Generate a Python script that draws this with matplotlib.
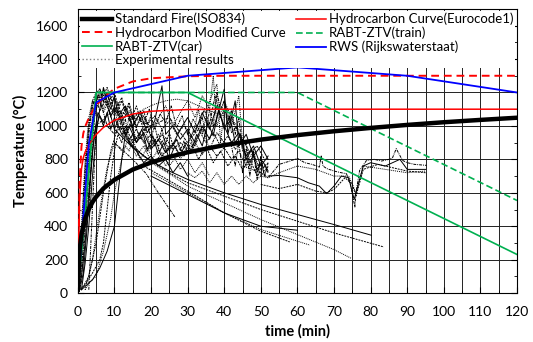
import matplotlib
matplotlib.use("Agg")
import matplotlib.pyplot as plt
from matplotlib.ticker import MultipleLocator

plt.rcParams['font.family'] = ['Lato', 'DejaVu Sans']

# standard fire curves (values read at sample times)
iso_t = [0, 0.5, 1, 1.5, 2, 3, 4, 5, 7, 10, 15, 20, 25, 30, 40, 50, 60, 70, 80, 90, 100, 110, 120]
iso_T = [20, 261, 349, 404, 445, 502, 544, 576, 626, 678, 739, 781, 815, 842, 885, 918, 945, 968, 988, 1006, 1022, 1036, 1049]

hc_t = [0, 0.5, 1, 1.5, 2, 3, 4, 5, 7, 10, 15, 20, 30, 40, 120]
hc_T = [20, 568, 743, 810, 844, 887, 920, 948, 991, 1034, 1071, 1088, 1098, 1100, 1100]
hcm_T = [20, 670, 877, 956, 996, 1047, 1087, 1120, 1171, 1222, 1266, 1285, 1297, 1300, 1300]

car_t = [0, 5, 30, 120]
car_T = [20, 1200, 1200, 231]
train_t = [0, 5, 60, 120]
train_T = [20, 1200, 1200, 554]

rws_t = [0, 3, 5, 10, 30, 60, 90, 120]
rws_T = [20, 890, 1140, 1200, 1300, 1350, 1300, 1200]

# experimental runs (time, temperature)
c1 = ([0, 1, 2, 3, 4, 5, 6, 7, 8, 9, 10, 11, 12, 13, 14, 15, 16, 17, 18, 19, 20, 21, 22, 23, 24, 25, 26, 27, 28, 29, 30],
      [20, 300, 700, 1000, 1150, 1200, 1170, 1215, 1120, 1175, 1080, 1140, 1050, 1110, 1030, 1060, 990, 1050, 970, 1000, 930, 1000, 910, 980, 890, 960, 880, 920, 850, 910, 840])
c2 = ([0, 1, 2, 3, 4, 5, 6, 7, 8, 9, 10, 12, 14, 16, 18, 20, 22, 24, 26, 28, 30, 32, 34, 36, 37, 38, 40, 42, 44, 45],
      [20, 150, 450, 800, 1000, 1100, 1150, 1080, 1130, 1060, 1100, 1020, 1090, 1000, 1060, 980, 1050, 1120, 1000, 1080, 1150, 1050, 1180, 1100, 1300, 1000, 1150, 1050, 950, 880])
c3 = ([0.5, 1.5, 2.5, 3.5, 4.5, 5.5, 6.5, 8, 10, 12, 14, 16, 18, 20, 22, 24, 26, 28, 30, 32, 34, 36, 38, 40, 42, 44, 46, 48, 50, 52],
      [20, 200, 550, 850, 1050, 1180, 1120, 1000, 950, 1000, 920, 980, 900, 950, 880, 930, 860, 900, 850, 900, 830, 880, 820, 870, 800, 850, 760, 820, 740, 780])
c4 = ([1, 2, 3, 4, 5, 6, 7, 8, 9, 10, 11, 13, 15, 17, 19, 21, 23, 24, 26, 28, 30, 32, 34, 36, 38, 40, 41, 43, 44, 46, 48, 50, 52],
      [20, 180, 400, 700, 950, 1100, 1230, 1150, 1100, 1180, 1060, 1120, 1000, 1080, 960, 1030, 1240, 950, 1000, 920, 980, 900, 1000, 920, 1050, 1220, 950, 1150, 880, 950, 820, 880, 800])
c5 = ([1, 3, 5, 7, 9, 11, 13, 15, 17, 19, 21, 23, 25, 27, 29, 31, 33, 35, 37, 39, 41, 43, 45, 47, 49, 51, 52],
      [20, 100, 300, 600, 850, 1000, 950, 1050, 920, 1000, 880, 950, 850, 920, 820, 900, 800, 880, 780, 850, 760, 820, 740, 800, 700, 760, 720])
c6 = ([0, 1, 2, 3, 4, 5, 6, 7, 8, 9, 10, 11, 12, 13, 14, 16, 18, 20, 22, 24, 26, 28, 30, 32, 33, 34, 36, 38, 39, 40, 42, 44, 45, 46, 48, 50, 52],
      [20, 400, 800, 1050, 1150, 1100, 1180, 1100, 1150, 1050, 1120, 1000, 1080, 950, 1050, 920, 1000, 870, 950, 840, 900, 800, 880, 1000, 1100, 950, 1150, 1250, 900, 1100, 1000, 1180, 900, 780, 850, 700, 760])
c7 = ([0, 1, 2, 3, 4, 5, 6, 7, 8, 9, 10, 11, 12, 13, 14, 15],
      [20, 250, 600, 950, 1120, 1190, 1225, 1150, 1190, 1120, 1060, 1100, 980, 1040, 900, 950])
c8 = ([1, 2, 4, 6, 8, 10, 11, 12, 13, 14, 16, 18, 20, 22, 24, 26, 28, 30],
      [20, 40, 80, 150, 250, 400, 600, 800, 950, 900, 850, 780, 820, 760, 800, 720, 780, 700])
c9 = ([0.5, 2, 4, 6, 7, 8, 9, 10, 11, 12, 13, 15, 17, 19, 21, 23, 25],
      [20, 50, 120, 200, 300, 500, 700, 850, 950, 900, 1000, 900, 960, 850, 920, 820, 880])
c10 = ([2, 3, 5, 6, 7, 8, 9, 10, 11, 12, 13, 14, 15, 17, 19, 21, 23, 25, 27],
       [20, 60, 100, 180, 250, 350, 450, 600, 700, 800, 880, 850, 920, 800, 870, 780, 840, 760, 820])
c11 = ([3, 5, 10, 15, 20, 25, 30, 32, 34, 35, 36, 37, 38, 39, 40, 41, 42, 43, 44, 45, 46, 47, 48, 49, 50, 51, 52],
       [20, 1000, 1100, 1050, 1000, 1050, 900, 980, 1050, 950, 1100, 1000, 1200, 1100, 1150, 1000, 1100, 950, 1050, 850, 900, 760, 850, 720, 800, 700, 760])
c12 = ([0, 1, 2, 3, 4, 5, 6, 7, 8, 9, 10, 12, 14, 16, 18, 20, 22, 24, 26, 28, 30, 32, 34, 36, 38, 40, 42, 44, 46, 48, 50, 52],
       [20, 100, 300, 600, 850, 1000, 1060, 1000, 1080, 980, 1050, 950, 1000, 900, 960, 860, 920, 840, 890, 980, 1050, 960, 1080, 980, 1120, 1000, 900, 960, 820, 880, 760, 820])
c13 = ([0, 1.2, 2.2, 3.2, 4.2, 5.2, 6.2, 7, 8, 9, 10, 11, 12, 13, 14, 15, 17, 19, 21, 23, 25, 27, 29, 31, 33, 35, 37, 39, 41, 43, 45, 47, 49, 51],
       [20, 200, 500, 850, 1100, 1160, 1200, 1140, 1200, 1130, 1170, 1100, 1150, 1080, 1120, 1040, 1090, 1010, 1060, 980, 1030, 950, 1000, 930, 980, 900, 960, 880, 940, 860, 920, 840, 880, 800])
c14 = ([15, 18, 21, 24, 27, 30, 33, 36, 40, 44],
       [1050, 1100, 1130, 1150, 1160, 1150, 1120, 1090, 1060, 1000])
c15 = ([0, 1, 2, 3, 4, 5, 6, 7.5, 9, 10.5, 12, 13.5, 15, 16.5, 18, 19.5, 21, 22.5, 24, 25.5, 27, 28.5, 30, 31.5, 33, 34.5, 36, 37.5, 39, 40.5, 42, 43.5, 45],
       [20, 350, 750, 1000, 1120, 1160, 1090, 1150, 1060, 1110, 1030, 1080, 990, 1060, 1010, 1100, 980, 1070, 1020, 1120, 990, 1060, 950, 1040, 980, 1100, 1010, 1180, 1050, 1120, 960, 1000, 870])
c16 = ([0.5, 1.5, 2.5, 3.5, 4.5, 5.5, 7, 8.5, 10, 11.5, 13, 14.5, 16, 17.5, 19, 20.5, 22, 23.5, 25, 26.5, 28, 29.5, 31, 32.5, 34, 35.5, 37, 38.5, 40, 41.5, 43, 44.5, 46, 47.5, 49, 50.5, 52],
       [20, 120, 380, 700, 950, 1080, 1020, 1100, 980, 1060, 940, 1010, 900, 980, 860, 940, 830, 900, 800, 880, 820, 900, 850, 950, 880, 1020, 940, 1100, 980, 1060, 900, 950, 800, 860, 740, 790, 730])
c17 = ([3, 4, 5, 6, 7, 8, 9, 10, 11, 12, 13, 14, 15, 16, 17, 18, 19, 20],
       [500, 900, 1150, 1210, 1180, 1230, 1160, 1200, 1120, 1170, 1090, 1140, 1060, 1120, 1040, 1090, 1010, 1060])
c18 = ([2, 4, 6, 8, 10, 12, 14, 16, 18, 20, 22, 24, 26, 28, 30, 32, 34, 36],
       [20, 200, 500, 750, 900, 850, 920, 820, 880, 790, 860, 760, 830, 740, 800, 720, 780, 700])
c19 = ([30, 32, 34, 36, 38, 40, 42, 43, 44, 45, 46, 47, 48, 49, 50, 51, 52],
       [950, 880, 990, 860, 960, 900, 880, 760, 900, 720, 860, 700, 840, 680, 820, 700, 780])

dec1 = ([10, 15, 20, 25, 30, 40, 50, 60, 70, 80.2],
        [980, 870, 790, 730, 680, 600, 530, 470, 410, 346])
dec2 = ([12, 18, 25, 30, 40, 50, 60, 70, 83.6],
        [950, 820, 720, 660, 580, 500, 430, 360, 276])
dec3 = ([14, 20, 26, 30, 40, 50, 60, 70, 74.8],
        [900, 780, 700, 640, 540, 440, 350, 260, 207])
dec4 = ([10, 15, 18.7, 22, 26.5],
        [900, 800, 714, 600, 456])
dec5 = ([20, 30, 40, 50, 60],
        [700, 590, 480, 400, 376])
dec6 = ([18, 30, 40, 50, 57.9],
        [760, 610, 480, 370, 306])
dec7 = ([20, 30, 40, 50, 63.4],
        [720, 600, 480, 380, 287])

r1 = ([45, 50, 52, 55, 58, 60, 62, 64, 66, 66.5, 67, 68, 70, 72, 73.4, 74.5, 75.7, 76, 77, 78.9, 81, 83, 85, 86, 87, 88.7, 90, 92, 95.3],
      [760, 720, 690, 770, 790, 806, 780, 770, 754, 820, 760, 745, 730, 720, 714, 650, 515, 600, 734, 794, 800, 790, 800, 810, 864, 794, 780, 770, 764])
r2 = ([52, 55, 60, 63, 66, 68, 70, 72, 74, 75.5, 76.5, 78, 80, 84, 88, 90, 95],
      [700, 704, 690, 660, 640, 595, 640, 700, 690, 560, 640, 760, 780, 760, 800, 740, 740])
r3 = ([50, 55, 60, 65, 68, 70, 73, 75, 76, 78, 82, 86, 90, 95],
      [650, 625, 650, 610, 600, 620, 690, 650, 580, 740, 770, 750, 730, 720])
r4 = ([30, 32, 34, 36, 38, 40, 42, 44, 46, 48, 50, 52, 55, 60, 65, 70, 74, 76, 78, 84, 90, 95],
      [720, 690, 730, 660, 720, 650, 700, 650, 700, 660, 700, 690, 720, 760, 740, 700, 700, 600, 760, 740, 720, 730])

runs = [c1, c2, c3, c4, c5, c6, c7, c8, c9, c10, c11, c12, c13, c14, c15, c16, c17, c18, c19,
        dec1, dec2, dec3, dec4, dec5, dec6, dec7, r1, r2, r3, r4]

fig = plt.figure(figsize=(5.33, 3.42), dpi=100)
ax = fig.add_axes([0.146, 0.143, 0.824, 0.831])

styles = [(0, (2, 1)), (0, (1, 1)), (0, (3, 1, 1, 1)), '-']
for i, (t, T) in enumerate(runs):
    ax.plot(t, T, color='black', lw=0.7, ls=styles[i % 4], zorder=2)

ax.plot(iso_t, iso_T, color='black', lw=3.2, zorder=4, label='Standard Fire(ISO834)')
ax.plot(hc_t, hcm_T, color='#ff0000', lw=1.4, ls=(0, (4, 2.5)), zorder=3, label='Hydrocarbon Modified Curve')
ax.plot(car_t, car_T, color='#00b050', lw=1.2, zorder=3, label='RABT-ZTV(car)')
ax.plot([], [], color='gray', lw=1, ls=':', label='Experimental results')
ax.plot(hc_t, hc_T, color='#ff0000', lw=1.1, zorder=3, label='Hydrocarbon Curve(Eurocode1)')
ax.plot(train_t, train_T, color='#00b050', lw=1.2, ls=(0, (4, 2)), zorder=3, label='RABT-ZTV(train)')
ax.plot(rws_t, rws_T, color='#0000ff', lw=1.3, zorder=3, label='RWS (Rijkswaterstaat)')

ax.set_xlim(0, 120)
ax.set_ylim(0, 1700)
ax.xaxis.set_major_locator(MultipleLocator(10))
ax.xaxis.set_minor_locator(MultipleLocator(5))
ax.yaxis.set_major_locator(MultipleLocator(200))
ax.yaxis.set_minor_locator(MultipleLocator(100))
ax.grid(True, which='major', axis='y', color='#222222', lw=0.7)
ax.grid(True, which='both', axis='x', color='#222222', lw=0.7)
ax.set_axisbelow(True)
ax.tick_params(which='both', direction='in', right=True, labelsize=10)
ax.tick_params(axis='x', which='minor', length=0)
ax.tick_params(which='major', length=4)
ax.tick_params(which='minor', length=2.5)
ax.tick_params(axis='x', which='major', pad=9)
ax.tick_params(axis='y', which='major', pad=7)

ax.set_xlabel('time (min)', fontsize=10.5, fontweight='bold', labelpad=5)
ax.set_ylabel('Temperature (°C)', fontsize=10.5, fontweight='bold', labelpad=6)

leg = ax.legend(loc='upper left', ncol=2, mode='expand', bbox_to_anchor=(0, 0, 1, 1),
                fontsize=9.5, frameon=True, framealpha=1, edgecolor='none', fancybox=False,
                handlelength=2.3, handletextpad=0.2, borderaxespad=0.15, labelspacing=0.1,
                borderpad=0.15)
leg.set_zorder(10)

fig.savefig('out.png', dpi=100)
